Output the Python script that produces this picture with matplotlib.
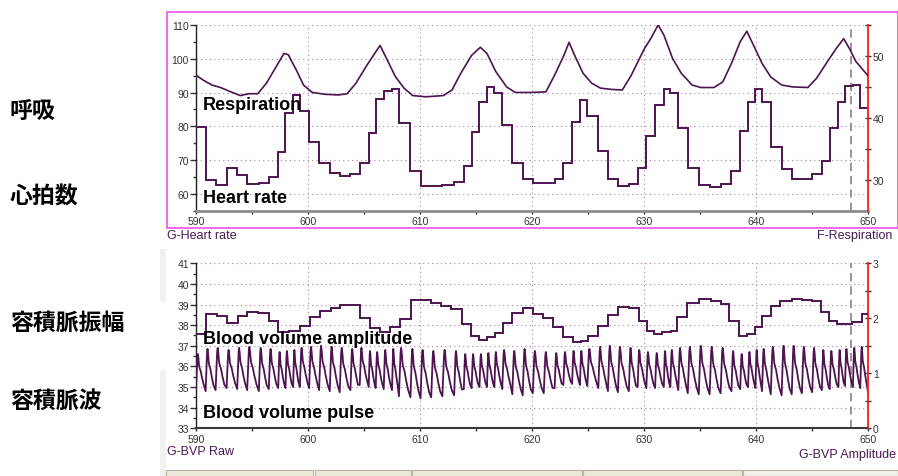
import matplotlib
matplotlib.use("Agg")
import matplotlib.pyplot as plt
from matplotlib.patches import Rectangle
from matplotlib.ticker import MultipleLocator, FixedLocator

plt.rcParams['font.family'] = ['Liberation Sans', 'DejaVu Sans']

# ---------------- data ----------------
# heart rate (bpm), one step per beat: step start times and values
hr_edges = [590.0, 590.86, 591.75, 592.73, 593.68, 594.57, 595.61, 596.5, 597.34, 597.99,
            598.67, 599.27, 600.1, 600.99, 601.94, 602.83, 603.79, 604.62, 605.42, 606.04,
            606.76, 607.5, 608.12, 609.15, 610.05, 612.0, 613.05, 613.91, 614.61, 615.31,
            615.98, 616.64, 617.34, 618.24, 619.17, 620.07, 622.02, 622.8, 623.58, 624.28,
            624.94, 625.92, 626.78, 627.67, 628.65, 629.43, 630.21, 630.99, 631.77, 632.35,
            633.06, 633.91, 634.89, 635.86, 636.84, 637.81, 638.59, 639.29, 639.95, 640.54,
            641.32, 642.29, 643.19, 645.02, 645.88, 646.58, 647.36, 647.94, 648.65, 649.31, 650.0]
hr_values = [79.8, 64.2, 62.7, 67.6, 65.7, 63.0, 63.3, 65.0, 72.5, 83.9,
             89.2, 84.4, 75.2, 69.1, 66.2, 65.2, 65.9, 69.1, 78.0, 88.0,
             90.5, 90.9, 80.9, 66.8, 62.2, 62.7, 63.4, 68.3, 78.4, 87.3,
             91.6, 89.8, 80.4, 69.1, 64.4, 63.2, 64.4, 69.1, 81.2, 87.9,
             83.0, 72.8, 64.4, 62.2, 62.9, 67.6, 77.2, 86.3, 91.1, 89.9,
             79.5, 67.6, 62.7, 62.1, 62.9, 66.8, 78.7, 87.3, 90.9, 87.1,
             74.0, 67.3, 64.4, 66.0, 69.8, 79.5, 87.3, 91.8, 92.1, 85.3]

# respiration (right axis units)
resp_t = [590.0, 590.64, 591.42, 592.2, 592.97, 593.95, 594.73, 595.51, 596.29, 597.07,
          597.85, 598.24, 599.02, 599.6, 600.38, 601.55, 602.72, 603.5, 604.28, 605.26,
          606.43, 607.01, 607.79, 608.57, 609.35, 610.52, 612.08, 612.86, 613.64, 614.61,
          615.39, 615.98, 616.76, 617.73, 618.51, 619.88, 621.24, 622.02, 622.8, 623.31,
          623.78, 624.56, 625.33, 626.11, 627.09, 628.06, 628.84, 630.01, 630.6, 631.26,
          631.77, 632.55, 633.33, 634.3, 635.08, 636.25, 637.03, 637.81, 638.59, 639.18,
          639.76, 640.54, 641.32, 642.29, 643.27, 644.63, 645.41, 646.38, 647.16, 647.83,
          648.34, 648.92, 650.0]
resp_v = [46.9, 46.1, 45.3, 44.9, 44.3, 43.6, 43.9, 43.9, 45.6, 48.0,
          50.4, 50.2, 47.5, 45.3, 44.1, 43.8, 43.7, 43.9, 45.6, 48.5,
          51.7, 49.6, 46.7, 44.8, 43.6, 43.4, 43.6, 44.5, 47.2, 50.1,
          51.4, 50.4, 47.5, 45.0, 44.1, 44.1, 44.2, 46.9, 49.9, 52.2,
          50.2, 47.2, 45.6, 44.8, 44.6, 44.5, 46.8, 51.1, 52.8, 55.0,
          53.4, 49.6, 47.2, 45.3, 44.9, 44.9, 45.8, 48.8, 52.3, 54.0,
          51.8, 48.8, 46.6, 45.3, 45.0, 44.9, 46.4, 49.1, 51.2, 52.8,
          51.2, 49.1, 46.8]

# blood volume amplitude (right axis units), step start times and values
amp_edges = [590.0, 590.89, 591.84, 592.73, 593.71, 594.58, 595.56, 596.51, 597.34, 598.29,
             599.27, 600.16, 601.11, 602.03, 602.89, 604.68, 605.51, 606.4, 607.29, 608.18,
             609.16, 610.02, 611.0, 611.89, 612.79, 613.77, 614.57, 615.31, 615.99, 616.74,
             617.45, 618.19, 619.17, 620.07, 620.96, 621.85, 622.74, 623.63, 624.37, 624.97,
             625.86, 626.75, 627.64, 628.68, 629.57, 630.31, 630.91, 631.59, 632.39, 632.99,
             633.88, 634.92, 635.96, 636.85, 637.59, 638.48, 639.23, 639.91, 640.5, 641.31,
             642.11, 643.24, 644.13, 644.96, 645.76, 646.51, 647.25, 648.59, 649.48, 650.0]
amp_values = [1.715, 2.078, 2.036, 1.915, 2.036, 2.109, 2.091, 1.956, 1.745, 1.775,
              1.865, 2.018, 2.127, 2.187, 2.242, 2.005, 1.824, 1.745, 1.836, 1.987,
              2.333, 2.339, 2.278, 2.229, 2.169, 1.896, 1.684, 1.605, 1.655, 1.727,
              1.909, 2.091, 2.182, 2.078, 2.005, 1.836, 1.655, 1.564, 1.593, 1.684,
              1.865, 2.066, 2.2, 2.182, 1.945, 1.764, 1.715, 1.745, 1.764, 2.029,
              2.273, 2.351, 2.32, 2.26, 1.956, 1.684, 1.715, 1.847, 2.047, 2.218,
              2.309, 2.357, 2.333, 2.32, 2.109, 1.956, 1.896, 1.927, 2.078]

# blood volume pulse: beat onsets, systolic peaks and diastolic troughs (left axis units)
pulse_onsets = [590.0, 590.86, 591.75, 592.73, 593.68, 594.57, 595.61, 596.5, 597.34, 597.99,
                598.67, 599.27, 600.1, 600.99, 601.94, 602.83, 603.79, 604.62, 605.42, 606.04,
                606.76, 607.5, 608.12, 609.15, 610.05, 611.0, 612.0, 613.05, 613.91, 614.61,
                615.31, 615.98, 616.64, 617.34, 618.24, 619.17, 620.07, 621.05, 622.02, 622.8,
                623.58, 624.28, 624.94, 625.92, 626.78, 627.67, 628.65, 629.43, 630.21, 630.99,
                631.77, 632.35, 633.06, 633.91, 634.89, 635.86, 636.84, 637.81, 638.59, 639.29,
                639.95, 640.54, 641.32, 642.29, 643.19, 644.1, 645.02, 645.88, 646.58, 647.36,
                647.94, 648.65, 649.31]
pulse_peaks = [36.6, 36.85, 36.9, 36.8, 36.9, 36.95, 36.9, 36.85, 36.7, 36.75,
               36.8, 36.9, 36.95, 37.0, 36.95, 36.9, 36.85, 36.9, 36.75, 36.7,
               36.8, 36.85, 36.9, 36.85, 36.8, 36.75, 36.8, 36.75, 36.6, 36.6,
               36.6, 36.65, 36.7, 36.8, 36.75, 36.85, 36.75, 36.7, 36.65, 36.7,
               36.75, 36.75, 36.85, 36.95, 37.0, 36.95, 36.9, 36.8, 36.7, 36.65,
               36.75, 36.8, 36.9, 36.95, 37.0, 36.95, 36.9, 36.75, 36.6, 36.7,
               36.8, 36.85, 36.95, 37.0, 37.0, 36.95, 36.9, 36.8, 36.75, 36.8,
               36.85, 36.9, 36.95]
pulse_troughs = [34.9, 34.8, 34.85, 34.95, 34.9, 34.85, 34.8, 34.9, 34.95, 34.95,
                 35.0, 35.0, 34.95, 34.85, 34.8, 34.75, 34.85, 35.1, 35.0, 34.95,
                 34.9, 34.85, 34.55, 34.5, 34.45, 34.5, 34.55, 34.6, 34.9, 34.95,
                 35.0, 35.0, 35.0, 34.9, 34.65, 34.6, 34.7, 34.7, 34.95, 35.1,
                 35.15, 35.1, 35.05, 34.95, 34.8, 34.75, 34.8, 35.0, 34.95, 34.95,
                 35.0, 35.0, 34.85, 34.7, 34.65, 34.65, 34.7, 34.8, 34.9, 35.0,
                 34.95, 34.8, 34.65, 34.6, 34.65, 34.7, 34.75, 34.85, 34.9, 35.0,
                 35.05, 35.0, 34.95]
pulse_end = 34.75

# ---------------- style ----------------
LINE = '#4d1450'
GRID = '#a383a3'
TICK = '#333333'
LABEL_PURPLE = '#4a1a55'
W, H = 898, 477


def fx(px):
    return px / W


def fy(py):
    return 1 - py / H


fig = plt.figure(figsize=(W / 100, H / 100), dpi=100)
fig.patch.set_facecolor('white')

# window fragments around the panels
fig.patches.append(Rectangle((fx(160), fy(303)), fx(6), (303 - 250) / H, transform=fig.transFigure,
                             facecolor='#f1f1ef', edgecolor='none', zorder=0))
fig.patches.append(Rectangle((fx(160), fy(477)), fx(6), (477 - 371) / H, transform=fig.transFigure,
                             facecolor='#f1f1ef', edgecolor='none', zorder=0))
for x0, x1, col in [(166, 313, '#ece9d8'), (315, 411, '#ece9d8'), (412, 582, '#ece9d8'),
                    (583, 742, '#ece9d8'), (743, 898, '#f3f1e6')]:
    fig.patches.append(Rectangle((fx(x0), fy(477)), fx(x1 - x0), 6.5 / H, transform=fig.transFigure,
                                 facecolor=col, edgecolor='#b8b4a4', lw=0.8, zorder=0))

# magenta frame around the upper chart
fig.patches.append(Rectangle((fx(166.5), fy(229)), fx(897.5 - 166.5), (229 - 12.7) / H,
                             transform=fig.transFigure, facecolor='none',
                             edgecolor='#f04cf0', lw=1.2, zorder=1))


def style_axes(ax, axr, ymin, ymax, ymaj, ymin_step, rmin, rmax, rmaj, rminor, bottom_col):
    ax.set_xlim(590, 650)
    ax.set_ylim(ymin, ymax)
    axr.set_ylim(rmin, rmax)
    ax.set_facecolor('none')
    ax.xaxis.set_major_locator(MultipleLocator(10))
    ax.xaxis.set_minor_locator(MultipleLocator(5))
    ax.yaxis.set_major_locator(MultipleLocator(ymaj))
    ax.yaxis.set_minor_locator(MultipleLocator(ymin_step))
    axr.yaxis.set_major_locator(MultipleLocator(rmaj))
    axr.yaxis.set_minor_locator(MultipleLocator(rminor))
    for a in (ax, axr):
        a.spines['top'].set_visible(False)
    ax.spines['right'].set_visible(False)
    axr.spines['left'].set_visible(False)
    axr.spines['bottom'].set_visible(False)
    axr.spines['right'].set_color('#ff1a1a')
    axr.spines['right'].set_linewidth(1.3)
    ax.spines['left'].set_color('#222222')
    ax.spines['left'].set_linewidth(1.0)
    ax.spines['bottom'].set_color(bottom_col)
    ax.spines['bottom'].set_linewidth(2.0)
    ax.tick_params(axis='x', which='both', direction='out', length=2.5, width=1,
                   color='#333333', labelsize=7.5, labelcolor=TICK, pad=1.5)
    ax.tick_params(axis='y', which='major', direction='out', length=4, width=1,
                   color='#333333', labelsize=7.5, labelcolor=TICK, pad=1)
    ax.tick_params(axis='y', which='minor', direction='out', length=2, width=1, color='#333333')
    axr.tick_params(axis='y', which='both', direction='inout', length=5, width=1,
                    color='#333333', labelsize=7.5, labelcolor=TICK, pad=1)
    ax.grid(True, which='major', axis='both', color=GRID, lw=0.8, linestyle=(0, (1, 3)))
    ax.set_axisbelow(True)
    # cursor line
    ax.axvline(648.45, color='#8e7e8e', lw=1.2, linestyle=(0, (5, 3)), zorder=1)


# ---------------- upper chart: heart rate and respiration ----------------
ax1 = fig.add_axes([fx(196), fy(211.7), fx(672), 185.7 / H])
ax1r = ax1.twinx()
style_axes(ax1, ax1r, 55, 110, 10, 5, 25, 55, 10, 5, '#8c8c8c')
ax1.yaxis.set_major_locator(FixedLocator([60, 70, 80, 90, 100, 110]))
ax1r.yaxis.set_major_locator(FixedLocator([30, 40, 50]))
ax1r.yaxis.set_minor_locator(FixedLocator([35, 45, 55]))
ax1.stairs(hr_values, hr_edges, baseline=None, color=LINE, lw=1.4, zorder=3)
ax1r.plot(resp_t, resp_v, color=LINE, lw=1.2, zorder=3)
ax1r.set_zorder(ax1.get_zorder() + 1)
ax1r.patch.set_visible(False)

# ---------------- lower chart: blood volume pulse and amplitude ----------------
ax2 = fig.add_axes([fx(196), fy(429.3), fx(672), 165 / H])
ax2r = ax2.twinx()
style_axes(ax2, ax2r, 33, 41, 1, 0.5, 0, 3, 1, 0.5, '#3a3a3a')
ax2.spines['bottom'].set_linewidth(1.5)
ax2r.stairs(amp_values, amp_edges, baseline=None, color=LINE, lw=1.4, zorder=3)

# pulse waveform: rounded upstroke, dicrotic shoulder, diastolic run-off
shape_phase = [0.0, 0.07, 0.14, 0.19, 0.25, 0.32, 0.40, 0.48, 0.62, 0.80]
shape_level = [0.0, 0.45, 0.90, 1.00, 0.88, 0.66, 0.58, 0.52, 0.33, 0.13]
bvp_t, bvp_v = [], []
ends = pulse_onsets[1:] + [650.0]
for t0, t1, pk, tr in zip(pulse_onsets, ends, pulse_peaks, pulse_troughs):
    p = t1 - t0
    for ph, lv in zip(shape_phase, shape_level):
        bvp_t.append(t0 + ph * p)
        bvp_v.append(tr + lv * (pk - tr))
bvp_t.append(650.0)
bvp_v.append(pulse_end)
ax2.plot(bvp_t, bvp_v, color=LINE, lw=1.3, zorder=3)
ax2r.set_zorder(ax2.get_zorder() + 1)
ax2r.patch.set_visible(False)

# ---------------- captions ----------------
for txt, x, y, ha in [('G-Heart rate', 167, 236, 'left'), ('F-Respiration', 892, 236, 'right'),
                      ('G-BVP Raw', 167, 452, 'left'), ('G-BVP Amplitude', 896, 455, 'right')]:
    fig.text(fx(x), fy(y), txt, ha=ha, va='center', fontsize=9, color=LABEL_PURPLE)

for txt, y in [('Respiration', 110), ('Heart rate', 202.7),
               ('Blood volume amplitude', 344.3), ('Blood volume pulse', 418.3)]:
    fig.text(fx(203), fy(y), txt, ha='left', va='baseline', fontsize=13,
             fontweight='bold', color='black', zorder=10)

for txt, y in [('呼吸', 112), ('心拍数', 197), ('容積脈振幅', 323), ('容積脈波', 401)]:
    fig.text(fx(10), fy(y), txt, ha='left', va='center', fontsize=16.5, fontweight='bold',
             family=['Noto Sans CJK JP', 'DejaVu Sans'], color='black')

fig.savefig('out.png', dpi=100, facecolor='white')
